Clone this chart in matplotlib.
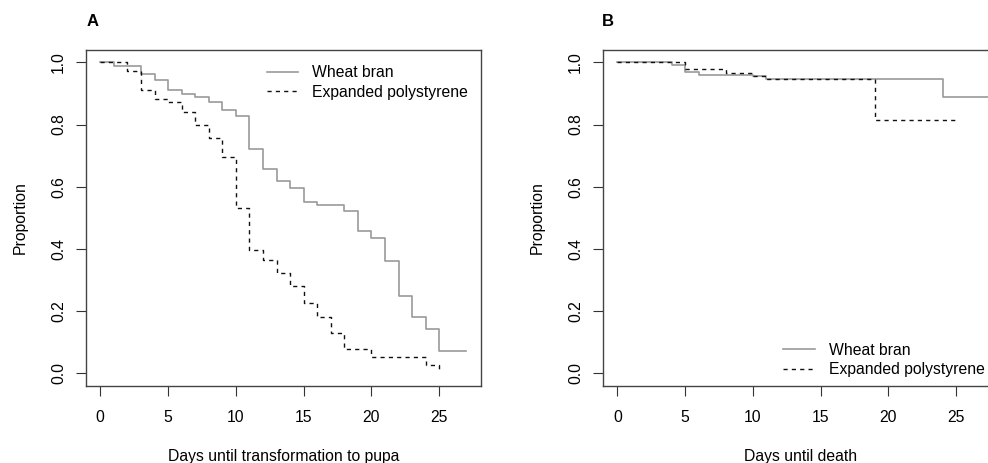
import matplotlib
matplotlib.use("Agg")
import matplotlib.pyplot as plt

plt.rcParams['font.family'] = ['Liberation Sans', 'DejaVu Sans']
plt.rcParams['font.size'] = 11.3

# A: days until transformation to pupa
wheat_a_days = [0, 1, 3, 4, 5, 6, 7, 8, 9, 10, 11, 12, 13, 14, 15, 16, 18, 19, 20, 21, 22, 23, 24, 25, 27]
wheat_a_prop = [1.0, 0.987, 0.962, 0.942, 0.912, 0.900, 0.888, 0.872, 0.848, 0.827, 0.722, 0.658, 0.618,
                0.597, 0.552, 0.542, 0.522, 0.458, 0.436, 0.362, 0.247, 0.182, 0.142, 0.072, 0.072]
eps_a_days = [0, 2, 3, 4, 5, 6, 7, 8, 9, 10, 11, 12, 13, 14, 15, 16, 17, 18, 20, 24, 25]
eps_a_prop = [1.0, 0.972, 0.911, 0.881, 0.872, 0.840, 0.800, 0.758, 0.697, 0.533, 0.397, 0.364, 0.324,
              0.281, 0.225, 0.182, 0.129, 0.077, 0.052, 0.027, 0.0]

# B: days until death
wheat_b_days = [0, 4, 5, 6, 10, 11, 24, 28]
wheat_b_prop = [1.0, 0.993, 0.969, 0.958, 0.955, 0.947, 0.889, 0.889]
eps_b_days = [0, 5, 8, 10, 11, 19, 25]
eps_b_prop = [1.0, 0.980, 0.967, 0.956, 0.947, 0.815, 0.815]

labels = ["Wheat bran", "Expanded polystyrene"]
yticks = [0.0, 0.2, 0.4, 0.6, 0.8, 1.0]
xticks = [0, 5, 10, 15, 20, 25]

solid_col = '#9a9a9a'
dash_col = '#111111'

fig = plt.figure(figsize=(9.88, 4.63), dpi=100)
ax_a = fig.add_axes([0.0867, 0.167, 0.4001, 0.725])
ax_b = fig.add_axes([0.6100, 0.167, 0.4001, 0.725])


def setup(ax, xlabel):
    ax.set_xlim(-1.08, 28.08)
    ax.set_ylim(-0.04, 1.04)
    ax.set_xticks(xticks)
    ax.set_yticks(yticks)
    ax.set_yticklabels(["%.1f" % v for v in yticks], rotation=90, va='center')
    ax.tick_params(axis='both', direction='out', length=7, width=0.8, color='#333333')
    ax.tick_params(axis='x', pad=10.5)
    ax.tick_params(axis='y', pad=7)
    for s in ax.spines.values():
        s.set_color('#444444')
        s.set_linewidth(1.0)
    ax.set_xlabel(xlabel, labelpad=17)
    ax.set_ylabel("Proportion", labelpad=17)


leg_kw = dict(loc='upper left', frameon=False, borderpad=0, handlelength=2.0,
              handletextpad=0.9, labelspacing=0.28)

ax_a.step(wheat_a_days, wheat_a_prop, where='post', color=solid_col, lw=1.2, label=labels[0])
ax_a.step(eps_a_days, eps_a_prop, where='post', color=dash_col, lw=1.0, ls=(0, (3, 3)), label=labels[1])
setup(ax_a, "Days until transformation to pupa")
ax_a.legend(bbox_to_anchor=(0.438, 0.978), **leg_kw)

ax_b.step(wheat_b_days, wheat_b_prop, where='post', color=solid_col, lw=1.2, label=labels[0])
ax_b.step(eps_b_days, eps_b_prop, where='post', color=dash_col, lw=1.0, ls=(0, (3, 3)), label=labels[1])
setup(ax_b, "Days until death")
ax_b.legend(bbox_to_anchor=(0.437, 0.151), **leg_kw)

fig.text(93 / 988, 1 - 22 / 463, "A", fontweight='bold', fontsize=12, ha='center', va='center')
fig.text(608 / 988, 1 - 22 / 463, "B", fontweight='bold', fontsize=12, ha='center', va='center')

fig.savefig("out.png", dpi=100)
